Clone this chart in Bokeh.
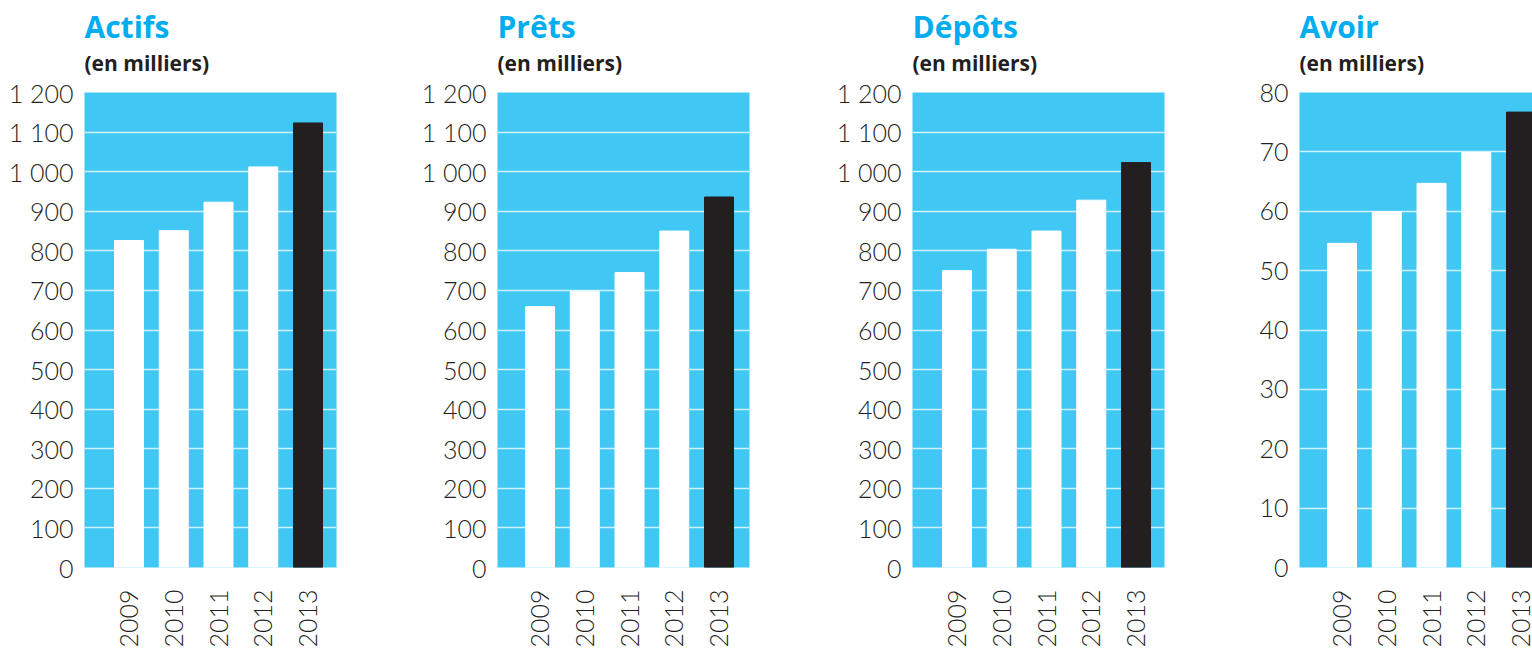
from bokeh.plotting import figure
from bokeh.models import Title, FixedTicker, ColumnDataSource, Range1d
from bokeh.layouts import row
from bokeh.embed import file_html
from bokeh.resources import INLINE

# ---- data ----
years = ["2009", "2010", "2011", "2012", "2013"]
actifs = [826, 851, 923, 1012, 1123]
prets = [659, 698, 745, 850, 936]
depots = [750, 804, 850, 928, 1023]
avoir = [54.6, 59.9, 64.7, 69.9, 76.7]
panel_titles = ["Actifs", "Prêts", "Dépôts", "Avoir"]
subtitle = "(en milliers)"
ticks_big = [0, 100, 200, 300, 400, 500, 600, 700, 800, 900, 1000, 1100, 1200]
labels_big = ["0", "100", "200", "300", "400", "500", "600", "700", "800", "900", "1 000", "1 100", "1 200"]
ticks_small = [0, 10, 20, 30, 40, 50, 60, 70, 80]
labels_small = ["0", "10", "20", "30", "40", "50", "60", "70", "80"]

# ---- style ----
BG = "#40C7F4"
TITLE_C = "#00AEEF"
DARK = "#231F20"
PX_PER_CAT = 44.75
BAR_W = 29 / PX_PER_CAT
TICK_FONT = "Lato Light"
HEAD_FONT = "Open Sans"


def panel(title, values, ticks, labels, left, plot_w, right, first_off):
    n = len(values)
    xs = list(range(n))
    colors = ["white"] * (n - 1) + [DARK]
    src = ColumnDataSource(dict(x=xs, top=values, color=colors))
    start = -first_off / PX_PER_CAT
    end = start + plot_w / PX_PER_CAT
    p = figure(width=left + plot_w + right, height=650,
               x_range=Range1d(start, end), y_range=Range1d(ticks[0], ticks[-1]),
               output_backend="svg", toolbar_location=None,
               min_border_left=left, min_border_right=right,
               min_border_top=92, min_border_bottom=83)
    p.background_fill_color = BG
    p.border_fill_color = "white"
    p.outline_line_color = None
    p.vbar(x="x", top="top", width=BAR_W, bottom=0, color="color", source=src)

    p.xgrid.visible = False
    p.ygrid.ticker = FixedTicker(ticks=ticks[1:-1])
    p.ygrid.grid_line_color = "white"
    p.ygrid.grid_line_alpha = 0.75
    p.ygrid.grid_line_width = 1.5

    for ax in (p.xaxis[0], p.yaxis[0]):
        ax.axis_line_color = None
        ax.major_tick_line_color = None
        ax.minor_tick_line_color = None
        ax.major_tick_out = 0
        ax.major_tick_in = 0
        ax.minor_tick_out = 0
        ax.major_label_text_font = TICK_FONT
        ax.major_label_text_font_size = "25px"
        ax.major_label_text_color = DARK

    p.yaxis.ticker = FixedTicker(ticks=ticks)
    p.yaxis.major_label_overrides = {t: l for t, l in zip(ticks, labels)}
    p.yaxis.major_label_standoff = 11

    p.xaxis.ticker = FixedTicker(ticks=xs)
    p.xaxis.major_label_overrides = {i: y for i, y in enumerate(years)}
    p.xaxis.major_label_orientation = 3.14159265 / 2
    p.xaxis.major_label_standoff = 22

    p.add_layout(Title(text=subtitle, align="left", text_font=HEAD_FONT,
                       text_font_size="21px", text_font_style="bold",
                       text_color=DARK, standoff=32), "above")
    p.add_layout(Title(text=title, align="left", text_font=HEAD_FONT,
                       text_font_size="30px", text_font_style="bold",
                       text_color=TITLE_C, standoff=-32), "above")
    return p


p1 = panel(panel_titles[0], actifs, ticks_big, labels_big, 84, 252, 82, 44.5)
p2 = panel(panel_titles[1], prets, ticks_big, labels_big, 79, 252, 84, 42.5)
p3 = panel(panel_titles[2], depots, ticks_big, labels_big, 79, 252, 85, 44.5)
p4 = panel(panel_titles[3], avoir, ticks_small, labels_small, 50, 233, 0, 42.5)

layout = row(p1, p2, p3, p4, spacing=0)
open("out.html", "w").write(file_html(layout, INLINE))
